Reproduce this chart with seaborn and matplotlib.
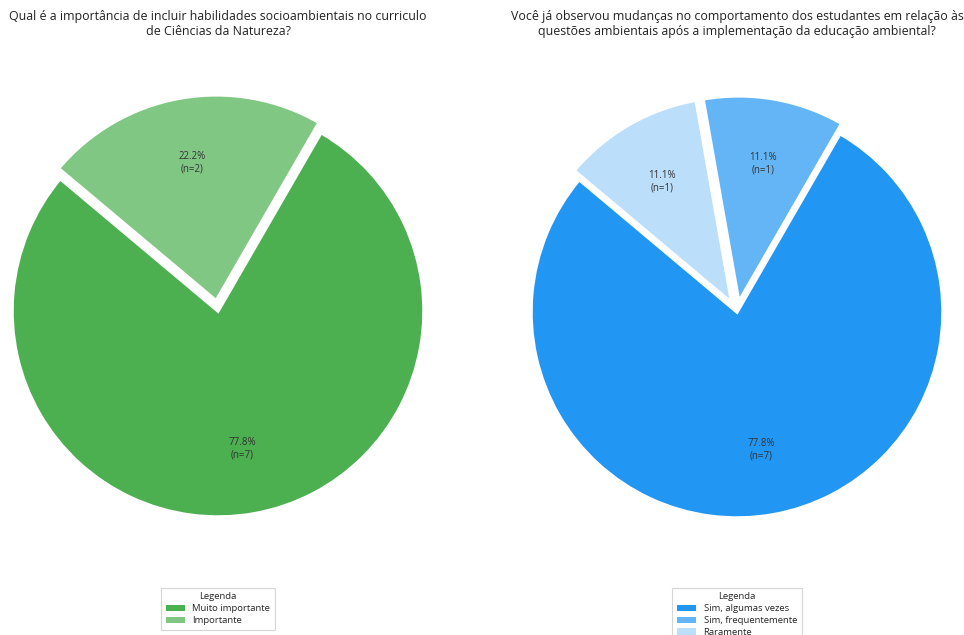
import matplotlib
matplotlib.use("Agg")
import matplotlib.pyplot as plt
import seaborn as sns

# Question 1: importance of socio-environmental skills
q1_title = "Qual é a importância de incluir habilidades socioambientais no curriculo\nde Ciências da Natureza?"
q1_labels = ["Muito importante", "Importante"]
q1_counts = [7, 2]
q1_colors = ["#4CAF50", "#81C784"]
q1_explode = [0, 0.05]

# Question 2: observed behaviour changes
q2_title = "Você já observou mudanças no comportamento dos estudantes em relação às\nquestões ambientais após a implementação da educação ambiental?"
q2_labels = ["Sim, algumas vezes", "Sim, frequentemente", "Raramente"]
q2_counts = [7, 1, 1]
q2_colors = ["#2196F3", "#64B5F6", "#BBDEFB"]
q2_explode = [0, 0.05, 0.05]

sns.set_theme(style="white")
plt.rcParams['font.family'] = ['Open Sans', 'DejaVu Sans']

W, H = 964, 635
fig = plt.figure(figsize=(W / 100, H / 100), dpi=100)

RADIUS_PX = 206
SPAN = 1.3  # axes half-range in data units


def draw_pie(cx, cy, counts, labels, colors, explode, title):
    half = RADIUS_PX * SPAN
    ax = fig.add_axes([(cx - half) / W, 1 - (cy + half) / H, 2 * half / W, 2 * half / H])
    total = sum(counts)

    def fmt(p):
        n = int(round(p * total / 100))
        return f"{p:.1f}%\n(n={n})"

    wedges, texts, autotexts = ax.pie(counts, colors=colors, explode=explode,
                                      startangle=140, autopct=fmt, pctdistance=0.68,
                                      wedgeprops={'edgecolor': 'white', 'linewidth': 2.5},
                                      textprops={'fontsize': 7, 'color': '#333333'})
    ax.set_xlim(-SPAN, SPAN)
    ax.set_ylim(-SPAN, SPAN)
    ax.set_aspect('equal')
    ax.axis('off')

    fig.text(cx / W, 1 - 10 / H, title, ha='center', va='top', fontsize=8.9,
             color='#222222', linespacing=1.2)

    leg = fig.legend(wedges, labels, title="Legenda", loc='upper center',
                     bbox_to_anchor=(cx / W, 1 - 583 / H), fontsize=6.8,
                     title_fontsize=6.8, frameon=True, handlelength=2.0,
                     handleheight=0.7, borderpad=0.5, labelspacing=0.3,
                     handletextpad=0.8, fancybox=False)
    leg.get_frame().set_edgecolor('#cccccc')
    leg.get_frame().set_linewidth(0.8)
    for h in leg.legend_handles:
        h.set_linewidth(0)


draw_pie(218, 311, q1_counts, q1_labels, q1_colors, q1_explode, q1_title)
draw_pie(737, 312, q2_counts, q2_labels, q2_colors, q2_explode, q2_title)

fig.savefig("out.png", dpi=100, facecolor='white')
